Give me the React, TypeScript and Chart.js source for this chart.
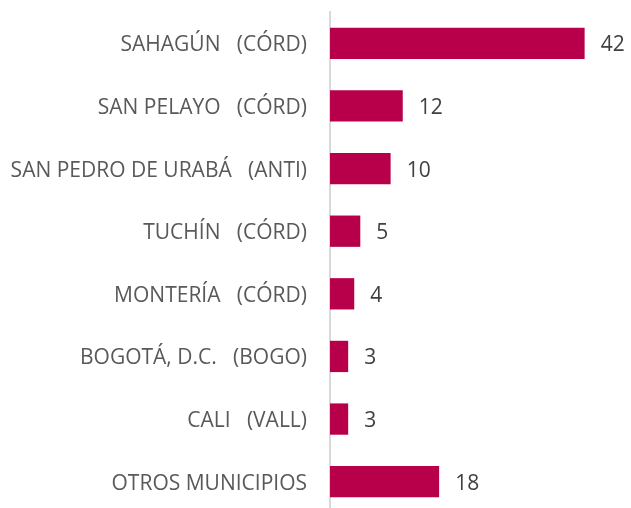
import React, { useEffect, useRef } from "react";
import { Chart, registerables } from "chart.js";

Chart.register(...registerables);

const categories = [
  "SAHAGÚN   (CÓRD)",
  "SAN PELAYO   (CÓRD)",
  "SAN PEDRO DE URABÁ   (ANTI)",
  "TUCHÍN   (CÓRD)",
  "MONTERÍA   (CÓRD)",
  "BOGOTÁ, D.C.   (BOGO)",
  "CALI   (VALL)",
  "OTROS MUNICIPIOS",
];
const values = [42, 12, 10, 5, 4, 3, 3, 18];

const FONT = "'Open Sans', 'DejaVu Sans', sans-serif";

const valueLabels = {
  id: "valueLabels",
  afterDatasetsDraw(chart: any) {
    const ctx = chart.ctx;
    const meta = chart.getDatasetMeta(0);
    ctx.save();
    ctx.font = `21px ${FONT}`;
    ctx.fillStyle = "#404040";
    ctx.textAlign = "left";
    ctx.textBaseline = "middle";
    meta.data.forEach((bar: any, i: number) => {
      ctx.fillText(String(values[i]), bar.x + 16, bar.y + 2);
    });
    ctx.restore();
  },
};

export default function App() {
  const ref = useRef<HTMLCanvasElement | null>(null);
  useEffect(() => {
    if (!ref.current) return;
    const chart = new Chart(ref.current, {
      type: "bar",
      data: {
        labels: categories,
        datasets: [
          {
            data: values,
            backgroundColor: "#B8004A",
            barPercentage: 0.5,
            categoryPercentage: 1,
          },
        ],
      },
      options: {
        indexAxis: "y",
        responsive: false,
        animation: false,
        layout: { padding: { top: 12, right: 10, bottom: 0, left: 0 } },
        plugins: { legend: { display: false }, tooltip: { enabled: false } },
        scales: {
          x: { display: false, min: 0, max: 48 },
          y: {
            afterFit: (scale: any) => {
              scale.width = 330;
              scale.paddingTop = 0;
              scale.paddingBottom = 0;
            },
            grid: { display: false, drawTicks: false },
            border: { display: true, color: "#D9D9D9", width: 2 },
            ticks: {
              color: "#595959",
              font: { family: FONT, size: 21 },
              padding: 23,
              labelOffset: 2,
            },
          },
        },
      },
      plugins: [valueLabels],
    });
    return () => chart.destroy();
  }, []);
  return (
    <div
      style={{
        position: "absolute",
        left: 0,
        top: 0,
        width: 631,
        height: 508,
        overflow: "hidden",
        background: "#fff",
      }}
    >
      <canvas ref={ref} width={631} height={513} style={{ display: "block" }} />
    </div>
  );
}
